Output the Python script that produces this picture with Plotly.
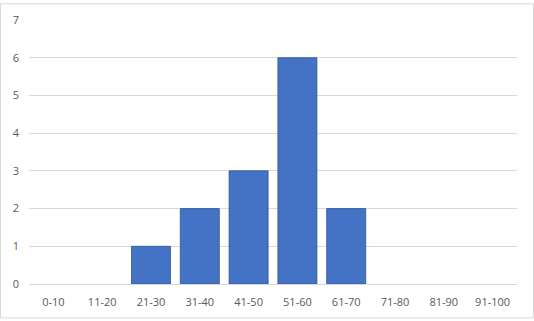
import plotly.graph_objects as go

categories = ["0-10", "11-20", "21-30", "31-40", "41-50", "51-60", "61-70", "71-80", "81-90", "91-100"]
counts = [0, 0, 1, 2, 3, 6, 2, 0, 0, 0]
y_ticks = [0, 1, 2, 3, 4, 5, 6, 7]

W, H = 534, 321
L, R, T, B = 29, 17, 17, 35
pw, ph = W - L - R, H - T - B

fig = go.Figure(go.Bar(
    x=categories, y=counts,
    marker=dict(color="#4472C4",
                line=dict(color="#2F5597", width=[0.8 if v > 0 else 0 for v in counts])),
))

fig.update_layout(
    width=W, height=H,
    margin=dict(l=L, r=R, t=T, b=B),
    paper_bgcolor="white", plot_bgcolor="white",
    bargap=0.2, showlegend=False,
    font=dict(family="Open Sans, Liberation Sans, sans-serif", size=11, color="#595959"),
    xaxis=dict(showgrid=False, showline=True, linecolor="#D9D9D9", linewidth=1,
               ticks="", tickfont=dict(size=11, color="#595959"), ticklabelstandoff=8),
    yaxis=dict(range=[0, 7], tickvals=y_ticks, showgrid=True, gridcolor="#D9D9D9", gridwidth=1,
               zeroline=False, showline=False, ticks="", tickfont=dict(size=11, color="#595959"),
               ticklabelstandoff=9),
    shapes=[dict(type="rect", xref="paper", yref="paper",
                 x0=(0.5 - L) / pw, x1=(W - 0.5 - L) / pw,
                 y0=-(H - 0.5 - (H - B)) / ph, y1=1 + (T - 0.5) / ph,
                 line=dict(color="#D9D9D9", width=1), layer="below")],
)

fig.write_html("out.html")
